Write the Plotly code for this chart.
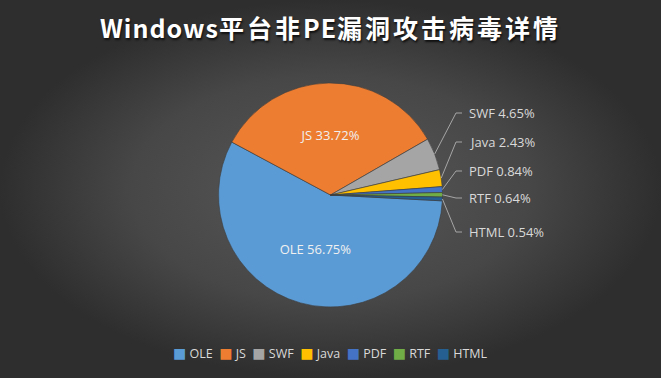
import math
import plotly.graph_objects as go

labels = ["OLE", "JS", "SWF", "Java", "PDF", "RTF", "HTML"]
values = [56.75, 33.72, 4.65, 2.43, 0.84, 0.64, 0.54]
colors = ["#5B9BD5", "#ED7D31", "#A5A5A5", "#FFC000", "#4472C4", "#70AD47", "#255E91"]
inside = [True, True, False, False, False, False, False]

title_latin = "Windows"
title_rest = ["平台非", "PE", "漏洞攻击病毒详情"]

W, H = 661, 378
cx, cy, r = 330.5, 195, 112          # pie centre / radius in pixels
rotation = 93
label_x, elbow_x, end_x = 467, 456, 462
label_y = [113, 142, 171, 198, 232]   # pixel rows of outside labels

def px(x):
    return x / W

def py(y):
    return 1 - y / H

fig = go.Figure()

# background radial gradient
fig.add_trace(go.Scatter(
    x=[0, 1, 1, 0, 0], y=[0, 0, 1, 1, 0], mode="lines",
    line=dict(width=0), fill="toself",
    fillgradient=dict(type="radial", colorscale=[[0, "#585858"], [0.6, "#474747"], [1, "#2e2e2e"]]),
    hoverinfo="skip", showlegend=False,
))

fig.add_trace(go.Pie(
    labels=labels,
    values=values,
    sort=False,
    direction="clockwise",
    rotation=rotation,
    marker=dict(colors=colors, line=dict(color="#3c3c3c", width=0.6)),
    texttemplate=[("%{label} %{value:.2f}%" if s else "") for s in inside],
    textposition=["inside" if s else "none" for s in inside],
    insidetextorientation="horizontal",
    insidetextfont=dict(family="Open Sans, Noto Sans", size=13, color="#f0f0f0"),
    hoverinfo="label+value",
    domain=dict(x=[0, 1], y=[py(cy + r), py(cy - r)]),
    showlegend=False,
))

# outside labels with leader lines
total = sum(values)
cum = 0.0
k = 0
shapes = []
annotations = []
for lab, v, s in zip(labels, values, inside):
    mid = rotation + 360 * (cum + v / 2) / total
    cum += v
    if s:
        continue
    th = math.radians(mid)
    x0 = cx + r * math.sin(th)
    y0 = cy - r * math.cos(th)
    ly = label_y[k]
    k += 1
    shapes.append(dict(
        type="path", xref="paper", yref="paper",
        path=f"M {px(x0)} {py(y0)} L {px(elbow_x)} {py(ly)} L {px(end_x)} {py(ly)}",
        line=dict(color="#a6a6a6", width=1),
    ))
    annotations.append(dict(
        x=px(label_x), y=py(ly), xref="paper", yref="paper",
        xanchor="left", yanchor="middle", showarrow=False,
        text=f"{lab} {v:.2f}%",
        font=dict(family="Open Sans, Noto Sans", size=13, color="#d9d9d9"),
    ))

# legend row
legend_text = "  ".join(
    f"<span style='color:{c};font-family:DejaVu Sans;font-size:14px'>■</span> {lab}"
    for lab, c in zip(labels, colors)
)
annotations.append(dict(
    x=px(330), y=py(353), xref="paper", yref="paper",
    xanchor="center", yanchor="middle", showarrow=False,
    text=legend_text,
    font=dict(family="Open Sans, Noto Sans", size=12.5, color="#d9d9d9"),
))

title_text = (
    f"<b><span style='letter-spacing:1px'>{title_latin}</span>"
    f"<span style='letter-spacing:3px'>{title_rest[0]}</span>"
    f"<span style='letter-spacing:1px'>{title_rest[1]}</span>"
    f"<span style='letter-spacing:3px'>{title_rest[2]}</span></b>"
)

fig.update_layout(
    width=W, height=H,
    paper_bgcolor="#464646",
    plot_bgcolor="rgba(0,0,0,0)",
    margin=dict(l=0, r=0, t=0, b=0),
    xaxis=dict(visible=False, range=[0, 1], domain=[0, 1], fixedrange=True),
    yaxis=dict(visible=False, range=[0, 1], domain=[0, 1], fixedrange=True),
    title=dict(
        text=title_text,
        x=0.5, xanchor="center", y=py(29), yanchor="middle",
        font=dict(family="Noto Sans CJK SC", size=25, color="#ffffff",
                  shadow="1px 2px 2px #111111"),
    ),
    shapes=shapes,
    annotations=annotations,
    showlegend=False,
)

fig.write_html("out.html", config={"displayModeBar": False},
               post_script="document.body.style.margin='0';")
